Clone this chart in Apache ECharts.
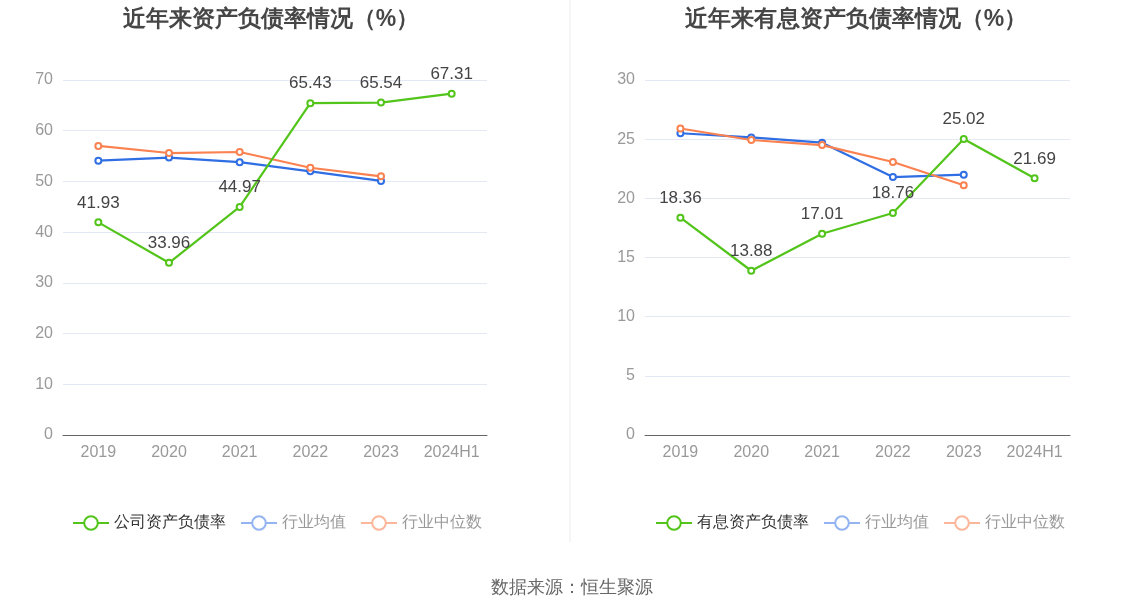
<!DOCTYPE html>
<html><head><meta charset="utf-8">
<script src="https://cdn.jsdelivr.net/npm/echarts@6/dist/echarts.min.js"></script>
<style>html,body{margin:0;padding:0;background:#fff}#c{width:1134px;height:612px}</style>
</head><body><div id="c"></div>
<script>
var categories = ['2019','2020','2021','2022','2023','2024H1'];
var leftTitle = '近年来资产负债率情况（%）';
var rightTitle = '近年来有息资产负债率情况（%）';
var leftCompany = [41.93, 33.96, 44.97, 65.43, 65.54, 67.31];
var leftAvg = [54.1, 54.7, 53.8, 52.0, 50.1, null];
var leftMedian = [57.0, 55.6, 55.8, 52.7, 51.0, null];
var rightCompany = [18.36, 13.88, 17.01, 18.76, 25.02, 21.69];
var rightAvg = [25.5, 25.15, 24.7, 21.8, 22.0, null];
var rightMedian = [25.9, 24.93, 24.5, 23.07, 21.1, null];
var leftNames = ['公司资产负债率','行业均值','行业中位数'];
var rightNames = ['有息资产负债率','行业均值','行业中位数'];
var sourceText = '数据来源：恒生聚源';

var GREEN='#52c41a', BLUE='#2f6ee3', ORANGE='#fa8150';
var chart = echarts.init(document.getElementById('c'));
function xAx(gi){return {type:'category',gridIndex:gi,data:categories,boundaryGap:true,
  axisLine:{lineStyle:{color:'#666'}},axisTick:{alignWithLabel:true,lineStyle:{color:'#666'}},
  axisLabel:{color:'#999',fontSize:16,margin:10,interval:0}};}
function yAx(gi,max,iv){return {type:'value',gridIndex:gi,min:0,max:max,interval:iv,
  axisLine:{show:false},axisTick:{show:false},axisLabel:{color:'#999',fontSize:16,margin:10},
  splitLine:{lineStyle:{color:'#e3e8f3'}}};}
function ser(name,data,color,gi,lbl){return {name:name,type:'line',xAxisIndex:gi,yAxisIndex:gi,data:data,
  symbol:'emptyCircle',symbolSize:6,lineStyle:{width:2.2,color:color},itemStyle:{color:color,borderWidth:2},
  label:{show:lbl,position:'top',color:'#444',fontSize:17,distance:7},z:lbl?3:2};}
function legend(names,left){return {left:left,top:510,itemWidth:36,itemHeight:17,itemGap:14,
  textStyle:{fontSize:16,color:'#333'},
  data:[{name:names[0]},
        {name:names[1],textStyle:{color:'#999'},itemStyle:{color:'#93b4f0'},lineStyle:{color:'#93b4f0'}},
        {name:names[2],textStyle:{color:'#999'},itemStyle:{color:'#fcb69a'},lineStyle:{color:'#fcb69a'}}]};}
chart.setOption({
  animation:false,
  title:[{text:leftTitle,left:266,top:3,textAlign:'center',textStyle:{fontSize:23,fontWeight:'bold',color:'#464646'}},
         {text:rightTitle,left:851,top:3,textAlign:'center',textStyle:{fontSize:23,fontWeight:'bold',color:'#464646'}},
         {text:sourceText,left:567,top:574,textAlign:'center',textStyle:{fontSize:18,fontWeight:'normal',color:'#666'}}],
  legend:[legend(leftNames,67), legend(rightNames,650)],
  grid:[{left:63,top:80,width:424,height:355},{left:645,top:80,width:425,height:355}],
  xAxis:[xAx(0),xAx(1)],
  yAxis:[yAx(0,70,10),yAx(1,30,5)],
  graphic:[{type:'line',shape:{x1:570,y1:0,x2:570,y2:542},style:{stroke:'#ececec',lineWidth:1}}],
  series:[ser(leftNames[0],leftCompany,GREEN,0,true),ser(leftNames[1],leftAvg,BLUE,0,false),ser(leftNames[2],leftMedian,ORANGE,0,false),
          ser(rightNames[0],rightCompany,GREEN,1,true),ser(rightNames[1],rightAvg,BLUE,1,false),ser(rightNames[2],rightMedian,ORANGE,1,false)]
});
</script></body></html>
